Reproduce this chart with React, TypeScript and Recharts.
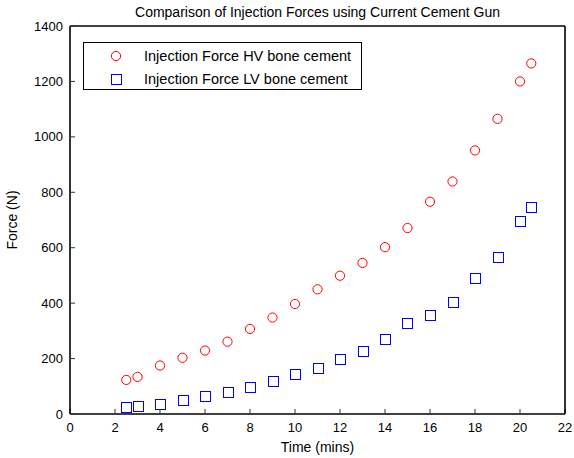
import React from 'react';
import { ScatterChart, Scatter, XAxis, YAxis, Legend } from 'recharts';

const TIMES = [2.5, 3, 4, 5, 6, 7, 8, 9, 10, 11, 12, 13, 14, 15, 16, 17, 18, 19, 20, 20.5];
const HV_FORCE = [123, 134, 175, 203, 229, 261, 307, 348, 397, 450, 499, 545, 602, 671, 766, 839, 951, 1065, 1200, 1265];
const LV_FORCE = [24, 28, 37, 49, 65, 81, 97, 118, 143, 167, 200, 229, 270, 327, 356, 405, 492, 568, 696, 748];

const X_TICKS = [0, 2, 4, 6, 8, 10, 12, 14, 16, 18, 20, 22];
const Y_TICKS = [0, 200, 400, 600, 800, 1000, 1200, 1400];

const hvData = TIMES.map((t, i) => ({ time: t, force: HV_FORCE[i] }));
const lvData = TIMES.map((t, i) => ({ time: t, force: LV_FORCE[i] }));

const FONT = 'Liberation Sans, Arial, Helvetica, sans-serif';
const tickStyle = { fill: '#000', fontSize: 13, fontFamily: FONT };
const frame = { stroke: '#000', strokeWidth: 1.6 };
const tickLn = { stroke: '#333', strokeWidth: 1 };

const Circle = (props: any) => (
  <circle cx={props.cx} cy={props.cy} r={4.6} fill="none" stroke="#ff0000" strokeWidth={1} />
);
const Square = (props: any) => (
  <rect x={Math.round(props.cx) - 4.5} y={Math.round(props.cy) - 4.5} width={10} height={10} fill="none" stroke="#0000ff" strokeWidth={1} shapeRendering="crispEdges" />
);
const NoTick = () => <g />;

const LegendBox = () => (
  <div style={{ width: 277, height: 46, border: '1px solid #000', background: '#fff', fontFamily: FONT, fontSize: 14.5, color: '#000' }}>
    <div style={{ display: 'flex', alignItems: 'center', height: 23, marginTop: 1 }}>
      <svg width={60} height={14}><circle cx={32} cy={7} r={4.6} fill="none" stroke="#ff0000" /></svg>
      <span>Injection Force HV bone cement</span>
    </div>
    <div style={{ display: 'flex', alignItems: 'center', height: 23 }}>
      <svg width={60} height={14}><rect x={27.5} y={2.5} width={10} height={10} fill="none" stroke="#0000ff" shapeRendering="crispEdges" /></svg>
      <span>Injection Force LV bone cement</span>
    </div>
  </div>
);

export default function App() {
  return (
    <div style={{ position: 'absolute', left: 0, top: 0, width: 574, height: 458, background: '#fff' }}>
      <ScatterChart width={574} height={458} margin={{ top: 25, right: 8, bottom: 0, left: 0 }}>
        <XAxis
          dataKey="time"
          type="number"
          domain={[0, 22]}
          ticks={X_TICKS}
          height={44}
          tickSize={-5}
          tickMargin={14}
          axisLine={frame}
          tickLine={tickLn}
          tick={tickStyle}
          label={{ value: 'Time (mins)', position: 'insideBottom', offset: 6, style: { fill: '#000', fontSize: 14, fontFamily: FONT } }}
        />
        <XAxis
          xAxisId="top"
          orientation="top"
          type="number"
          domain={[0, 22]}
          ticks={X_TICKS}
          height={1}
          tickSize={-5}
          tick={NoTick}
          axisLine={frame}
          tickLine={tickLn}
          label={{ value: 'Comparison of Injection Forces using Current Cement Gun', position: 'top', offset: 8, style: { fill: '#000', fontSize: 14, fontFamily: FONT } }}
        />
        <YAxis
          dataKey="force"
          type="number"
          domain={[0, 1400]}
          ticks={Y_TICKS}
          width={70}
          tickSize={-5}
          tickMargin={12}
          axisLine={frame}
          tickLine={tickLn}
          tick={tickStyle}
          label={{ value: 'Force (N)', angle: -90, position: 'insideLeft', offset: 12, style: { fill: '#000', fontSize: 14, fontFamily: FONT, textAnchor: 'middle' } }}
        />
        <YAxis
          yAxisId="right"
          orientation="right"
          type="number"
          domain={[0, 1400]}
          ticks={Y_TICKS}
          width={1}
          tickSize={-5}
          tick={NoTick}
          axisLine={frame}
          tickLine={tickLn}
        />
        <Legend
          layout="vertical"
          align="center"
          verticalAlign="middle"
          content={() => <LegendBox />}
          wrapperStyle={{ position: 'absolute', left: 83, top: 42, width: 279, height: 48 }}
        />
        <Scatter name="Injection Force HV bone cement" data={hvData} shape={Circle} isAnimationActive={false} />
        <Scatter name="Injection Force LV bone cement" data={lvData} shape={Square} isAnimationActive={false} />
      </ScatterChart>
    </div>
  );
}
